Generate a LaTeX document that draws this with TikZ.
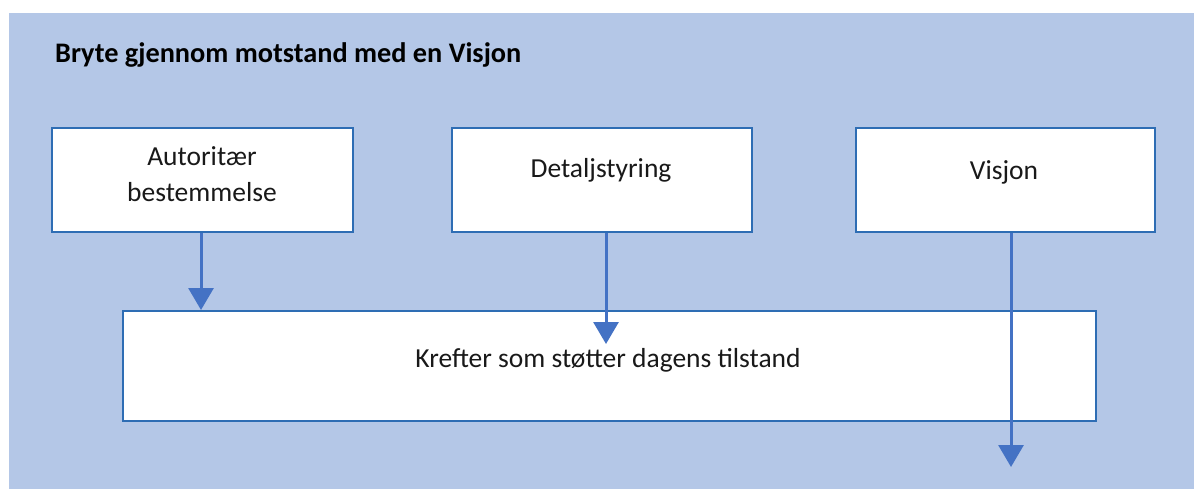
\documentclass[tikz,border=0pt]{standalone}
\usepackage{fontspec}
\setmainfont{Carlito}
\usetikzlibrary{arrows.meta}
\definecolor{bgblue}{HTML}{B4C7E7}
\definecolor{boxline}{HTML}{2E6DB4}
\definecolor{arrblue}{HTML}{4472C4}
\tikzset{
  box/.style={draw=boxline, line width=2pt, fill=white, inner sep=0pt},
  txt/.style={anchor=base, inner sep=0pt, font=\fontsize{27.5}{33}\selectfont, text=black!90},
  arr/.style={draw=arrblue, line width=3pt, -{Triangle[width=25pt,length=22pt]}}
}
\begin{document}
\begin{tikzpicture}[x=1pt,y=-1pt]
\useasboundingbox (0,0) rectangle (1194,489);
\fill[white] (0,0) rectangle (1194,489);
\fill[bgblue] (9,13) rectangle (1194,489);
\node[anchor=base west, inner sep=0pt, font=\bfseries\fontsize{28.3}{34}\selectfont, text=black] (title) at (55,63) {Bryte gjennom motstand med en Visjon};
\node[box, minimum width=301pt, minimum height=104pt] (b1) at (202.5,180) {};
\node[box, minimum width=300pt, minimum height=104pt] (b2) at (602,180) {};
\node[box, minimum width=299pt, minimum height=104pt] (b3) at (1005.5,180) {};
\node[box, minimum width=973pt, minimum height=110pt] (big) at (609.5,366) {};
\node[txt] (t1a) at (202,166) {Autoritær};
\node[txt] (t1b) at (202,202) {bestemmelse};
\node[txt] (t2) at (601,178) {Detaljstyring};
\node[txt] (t3) at (1004,180) {Visjon};
\node[txt] (t4) at (608,367) {Krefter som støtter dagens tilstand};
\coordinate (e1) at (201,310);
\coordinate (e2) at (606,344);
\coordinate (e3) at (1011,467);
\draw[arr] (b1.south -| e1) -- (e1);
\draw[arr] (b2.south -| e2) -- (e2);
\draw[arr] (b3.south -| e3) -- (e3);
\end{tikzpicture}
\end{document}
